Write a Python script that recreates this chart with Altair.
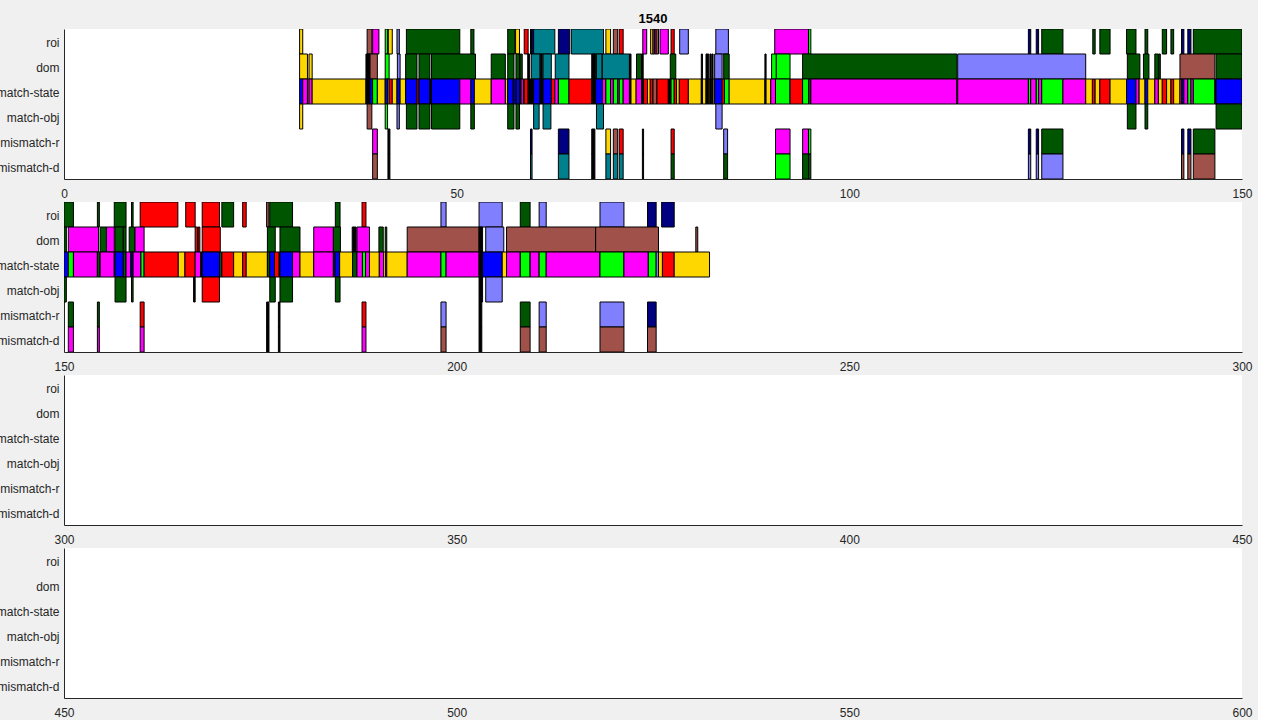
import altair as alt
import pandas as pd

ROWS = ["roi", "dom", "match-state", "match-obj", "mismatch-r", "mismatch-d"]
CODES = ["G", "Y", "M", "B", "R", "L", "T", "N", "P", "W", "K"]
COLORS = ["#005500", "#FFD700", "#FF00FF", "#0000FF", "#FF0000", "#00FF00",
          "#00808C", "#000080", "#8080FF", "#A0524A", "#000000"]
PANELS = [(0, 150), (150, 300), (300, 450), (450, 600)]
TITLE = "1540"

roi = [
    (30.0, 30.4, "Y"), (38.6, 39.2, "W"), (39.3, 40.1, "M"), (40.9, 41.2, "L"),
    (41.3, 41.8, "Y"), (42.4, 42.7, "P"), (43.6, 50.4, "G"), (51.8, 52.2, "G"),
    (56.5, 57.4, "G"), (57.5, 58.0, "Y"), (58.6, 59.1, "R"), (59.4, 59.55, "K"),
    (59.55, 59.8, "N"), (59.8, 62.5, "T"), (62.95, 64.4, "N"), (64.6, 68.7, "T"),
    (69.0, 69.6, "Y"), (69.95, 70.5, "W"), (70.7, 71.2, "R"), (73.7, 74.2, "M"),
    (74.7, 75.0, "Y"), (75.0, 75.2, "W"), (75.2, 75.4, "M"), (75.4, 75.7, "W"),
    (75.9, 76.95, "M"), (77.3, 77.7, "R"), (78.4, 79.5, "P"), (83.0, 84.6, "P"),
    (90.5, 94.8, "M"), (94.8, 95.1, "L"), (122.8, 123.1, "N"), (123.8, 124.1, "N"),
    (124.5, 127.2, "G"), (131.0, 131.3, "G"), (131.9, 133.2, "G"), (135.3, 136.5, "G"),
    (137.65, 138.0, "G"), (139.85, 140.4, "G"), (140.95, 141.3, "G"), (142.3, 142.6, "N"),
    (143.1, 143.5, "N"), (143.8, 150.0, "G"),
    (150.0, 151.2, "G"), (154.25, 154.5, "G"), (156.4, 157.9, "G"), (158.6, 158.8, "G"),
    (159.7, 164.5, "R"), (165.5, 166.7, "R"), (167.6, 169.8, "R"), (170.1, 171.6, "G"),
    (172.75, 173.2, "R"), (175.8, 176.1, "W"), (176.2, 179.1, "G"), (184.55, 185.15, "G"),
    (187.95, 188.45, "R"), (198.0, 198.65, "P"), (202.85, 205.8, "P"), (208.1, 209.35, "G"),
    (210.5, 211.4, "P"), (218.25, 221.3, "P"), (224.3, 225.4, "N"), (226.1, 227.7, "N"),
]

dom = [
    (30.0, 31.0, "Y"), (31.2, 31.6, "Y"), (38.45, 38.97, "K"), (38.97, 39.9, "W"),
    (40.9, 41.4, "L"), (42.45, 42.8, "P"), (43.5, 44.95, "G"), (45.2, 46.6, "G"),
    (46.8, 52.4, "G"), (54.4, 56.2, "G"), (56.5, 57.3, "G"), (57.55, 58.0, "G"),
    (58.1, 58.35, "G"), (59.05, 59.3, "K"), (59.5, 60.6, "T"), (60.65, 60.9, "K"),
    (61.0, 62.05, "T"), (62.55, 64.3, "T"), (67.2, 67.7, "K"), (67.8, 68.5, "T"),
    (68.55, 72.0, "T"), (72.0, 72.2, "K"), (72.9, 73.55, "G"), (73.55, 73.75, "K"),
    (77.2, 77.9, "G"), (81.15, 81.3, "K"), (81.75, 82.1, "K"), (82.25, 82.4, "K"),
    (82.5, 82.65, "K"), (82.85, 83.8, "P"), (84.0, 84.7, "G"), (89.25, 89.4, "K"),
    (90.1, 90.7, "L"), (90.7, 92.45, "L"), (94.05, 113.7, "G"), (113.8, 130.1, "P"),
    (135.4, 137.0, "G"), (137.45, 138.15, "G"), (138.9, 139.35, "G"), (139.4, 139.6, "G"),
    (142.1, 146.55, "W"), (146.7, 150.0, "G"),
    (150.0, 150.3, "G"), (150.55, 154.4, "M"), (154.6, 155.4, "G"), (155.4, 156.4, "M"),
    (156.5, 157.55, "G"), (157.55, 157.9, "G"), (158.3, 159.0, "G"), (159.05, 160.2, "M"),
    (166.7, 167.0, "R"), (167.1, 167.3, "R"), (167.6, 169.9, "R"), (175.9, 176.9, "G"),
    (177.5, 180.05, "G"), (181.8, 184.3, "M"), (184.3, 185.2, "G"), (186.7, 187.2, "K"),
    (187.3, 188.9, "M"), (190.1, 190.65, "G"), (190.9, 191.1, "G"), (193.7, 202.85, "W"),
    (202.85, 203.3, "K"), (203.7, 206.0, "P"), (206.35, 217.7, "W"), (217.7, 225.7, "W"),
    (230.45, 230.7, "W"),
]

match_state = [
    (30.0, 30.4, "B"), (30.4, 31.0, "M"), (31.0, 31.2, "Y"), (31.2, 31.6, "M"),
    (31.6, 38.45, "Y"), (38.45, 38.97, "K"), (38.97, 39.3, "B"), (39.3, 39.9, "L"),
    (39.9, 40.9, "Y"), (40.9, 41.2, "B"), (41.2, 41.4, "Y"), (41.4, 41.8, "R"),
    (41.8, 42.4, "Y"), (42.4, 42.8, "B"), (42.8, 43.5, "Y"), (43.5, 44.95, "B"),
    (44.95, 45.2, "R"), (45.2, 46.6, "B"), (46.6, 46.8, "K"), (46.8, 50.4, "B"),
    (50.4, 51.8, "M"), (51.8, 52.25, "B"), (52.25, 54.4, "Y"), (54.4, 56.2, "M"),
    (56.2, 56.5, "Y"), (56.5, 57.2, "B"), (57.2, 57.6, "N"), (57.6, 58.0, "B"),
    (58.0, 58.2, "K"), (58.2, 58.5, "M"), (58.5, 58.6, "K"), (58.6, 59.1, "R"),
    (59.1, 59.4, "K"), (59.4, 59.8, "K"), (59.8, 60.6, "B"), (60.6, 61.0, "K"),
    (61.0, 62.05, "B"), (62.05, 62.5, "R"), (62.5, 62.95, "M"), (62.95, 64.3, "L"),
    (64.3, 67.2, "R"), (67.2, 67.7, "K"), (67.7, 68.55, "B"), (68.55, 69.0, "M"),
    (69.0, 69.6, "L"), (69.6, 69.95, "M"), (69.95, 70.5, "L"), (70.5, 70.7, "M"),
    (70.7, 71.2, "L"), (71.2, 72.0, "M"), (72.0, 72.2, "K"), (72.2, 72.85, "Y"),
    (72.85, 73.55, "M"), (73.55, 73.8, "K"), (73.8, 74.3, "R"), (74.3, 74.65, "Y"),
    (74.65, 75.0, "R"), (75.0, 75.5, "W"), (75.5, 76.95, "R"), (76.95, 77.3, "K"),
    (77.3, 77.7, "L"), (77.7, 78.0, "R"), (78.0, 78.35, "Y"), (78.35, 79.5, "R"),
    (79.5, 81.15, "Y"), (81.15, 81.3, "K"), (81.3, 81.75, "Y"), (81.75, 82.1, "K"),
    (82.1, 82.25, "Y"), (82.25, 82.4, "K"), (82.4, 82.5, "Y"), (82.5, 82.65, "K"),
    (82.65, 82.85, "Y"), (82.85, 83.8, "B"), (83.8, 84.1, "R"), (84.1, 84.7, "L"),
    (84.7, 89.25, "Y"), (89.25, 89.4, "K"), (89.4, 90.0, "Y"), (90.0, 90.6, "M"),
    (90.6, 92.45, "L"), (92.45, 94.05, "R"), (94.05, 94.8, "L"), (94.8, 95.1, "G"),
    (95.1, 113.7, "M"), (113.7, 113.8, "K"), (113.8, 122.8, "M"), (122.8, 123.1, "L"),
    (123.1, 123.8, "M"), (123.8, 124.1, "L"), (124.1, 124.5, "M"), (124.5, 127.2, "L"),
    (127.2, 130.1, "M"), (130.1, 130.95, "Y"), (130.95, 131.3, "R"), (131.3, 131.9, "Y"),
    (131.9, 133.2, "R"), (133.2, 135.3, "Y"), (135.3, 136.5, "B"), (136.5, 136.9, "M"),
    (136.9, 137.65, "Y"), (137.65, 138.0, "B"), (138.0, 138.9, "Y"), (138.9, 139.35, "M"),
    (139.35, 139.85, "Y"), (139.85, 140.4, "R"), (140.4, 140.95, "Y"), (140.95, 141.3, "R"),
    (141.3, 142.1, "Y"), (142.1, 142.3, "M"), (142.3, 142.6, "N"), (142.6, 143.1, "M"),
    (143.1, 143.5, "L"), (143.5, 143.8, "M"), (143.8, 146.55, "L"), (146.55, 146.7, "K"),
    (146.7, 150.0, "B"),
    (150.0, 150.55, "B"), (150.55, 151.2, "L"), (151.2, 154.25, "M"), (154.25, 154.6, "G"),
    (154.6, 156.4, "M"), (156.4, 156.5, "K"), (156.5, 157.55, "B"), (157.55, 157.9, "G"),
    (157.9, 158.5, "M"), (158.5, 158.8, "N"), (158.8, 159.8, "M"), (159.8, 160.2, "L"),
    (160.2, 164.55, "R"), (164.55, 165.4, "Y"), (165.4, 166.7, "R"), (166.7, 167.4, "M"),
    (167.4, 167.6, "K"), (167.6, 169.8, "B"), (169.8, 170.1, "G"), (170.1, 171.6, "R"),
    (171.6, 172.75, "Y"), (172.75, 173.2, "R"), (173.2, 175.9, "Y"), (175.9, 176.2, "G"),
    (176.2, 176.8, "B"), (176.8, 177.4, "R"), (177.4, 177.5, "K"), (177.5, 179.1, "B"),
    (179.1, 180.05, "M"), (180.05, 181.8, "Y"), (181.8, 184.3, "M"), (184.3, 184.5, "G"),
    (184.5, 185.1, "B"), (185.1, 186.75, "Y"), (186.75, 187.3, "G"), (187.3, 188.0, "M"),
    (188.0, 188.4, "L"), (188.4, 188.9, "M"), (188.9, 190.15, "Y"), (190.15, 190.7, "M"),
    (190.7, 190.95, "Y"), (190.95, 191.1, "M"), (191.1, 193.7, "Y"), (193.7, 198.0, "M"),
    (198.0, 198.65, "L"), (198.65, 202.85, "M"), (202.85, 203.3, "K"), (203.3, 205.8, "B"),
    (205.8, 206.35, "Y"), (206.35, 208.1, "M"), (208.1, 209.35, "L"), (209.35, 210.5, "M"),
    (210.5, 211.4, "L"), (211.4, 218.25, "M"), (218.25, 221.3, "L"), (221.3, 224.4, "M"),
    (224.4, 225.4, "L"), (225.4, 225.7, "P"), (225.7, 226.2, "Y"), (226.2, 227.7, "R"),
    (227.7, 232.2, "Y"),
]

match_obj = [
    (30.0, 30.4, "Y"), (38.6, 39.2, "W"), (40.9, 41.2, "L"), (42.4, 42.7, "P"),
    (43.6, 44.95, "G"), (45.2, 46.6, "G"), (46.8, 50.4, "G"), (51.8, 52.25, "G"),
    (56.5, 57.3, "G"), (57.55, 58.0, "G"), (59.8, 60.5, "T"), (61.0, 62.0, "T"),
    (67.8, 68.7, "T"), (83.0, 83.8, "P"), (135.4, 136.5, "G"), (137.65, 138.0, "G"),
    (146.7, 150.0, "G"),
    (150.0, 150.3, "G"), (156.5, 157.9, "G"), (158.6, 158.8, "G"), (166.5, 166.7, "K"),
    (167.6, 169.8, "R"), (176.2, 176.9, "G"), (177.5, 179.1, "G"), (184.55, 185.15, "G"),
    (202.85, 203.3, "K"), (203.7, 205.8, "P"),
]

mismatch_r = [
    (39.3, 39.9, "M"), (41.25, 41.5, "K"), (59.4, 59.6, "N"), (62.95, 64.3, "N"),
    (67.2, 67.6, "K"), (69.0, 69.6, "Y"), (69.95, 70.5, "W"), (70.7, 71.2, "R"),
    (73.65, 73.8, "K"), (77.3, 77.7, "R"), (84.0, 84.5, "P"), (90.6, 92.45, "M"),
    (94.05, 94.8, "M"), (94.8, 95.1, "L"), (122.8, 123.1, "N"), (123.8, 124.1, "N"),
    (124.5, 127.2, "G"), (142.3, 142.6, "N"), (143.1, 143.5, "N"), (143.8, 146.55, "G"),
    (150.55, 151.2, "G"), (154.25, 154.5, "G"), (159.7, 160.2, "R"), (175.8, 176.1, "K"),
    (177.3, 177.5, "K"), (187.95, 188.45, "R"), (198.0, 198.65, "P"), (202.85, 203.2, "K"),
    (208.1, 209.35, "G"), (210.5, 211.4, "P"), (218.25, 221.3, "P"), (224.3, 225.4, "N"),
]

mismatch_d = [
    (39.3, 39.9, "W"), (41.25, 41.5, "K"), (59.4, 59.6, "T"), (62.95, 64.3, "T"),
    (67.2, 67.6, "K"), (69.0, 69.6, "T"), (69.95, 70.5, "T"), (70.7, 71.2, "T"),
    (73.65, 73.8, "K"), (77.3, 77.7, "G"), (84.0, 84.5, "G"), (90.6, 92.45, "L"),
    (94.05, 94.8, "G"), (94.8, 95.1, "G"), (122.8, 123.1, "P"), (123.8, 124.1, "P"),
    (124.5, 127.2, "P"), (142.3, 142.6, "W"), (143.1, 143.5, "W"), (143.8, 146.55, "W"),
    (150.55, 151.2, "M"), (154.25, 154.5, "M"), (159.7, 160.2, "M"), (175.8, 176.1, "K"),
    (177.3, 177.5, "K"), (187.95, 188.45, "M"), (198.0, 198.65, "W"), (202.85, 203.2, "K"),
    (208.1, 209.35, "W"), (210.5, 211.4, "W"), (218.25, 221.3, "W"), (224.3, 225.4, "W"),
]

SERIES = [roi, dom, match_state, match_obj, mismatch_r, mismatch_d]

records = []
for row_name, segs in zip(ROWS, SERIES):
    for s, e, c in segs:
        records.append({"row": row_name, "start": s, "end": e, "code": c})
df = pd.DataFrame(records)

FONT = "Liberation Sans"
AX = "#262626"


def panel(lo, hi, title=None):
    ch = alt.Chart(df).transform_filter(
        (alt.datum.end > lo) & (alt.datum.start < hi)
    ).mark_bar(stroke="black", strokeWidth=1, clip=True).encode(
        x=alt.X("start:Q",
                scale=alt.Scale(domain=[lo, hi], nice=False, zero=False),
                axis=alt.Axis(values=[lo, lo + 50, lo + 100, hi], format="d", title=None,
                              ticks=False, grid=False, labelFlush=False, labelPadding=9,
                              domainColor=AX, labelColor=AX, labelFontSize=12, labelFont=FONT)),
        x2="end:Q",
        y=alt.Y("row:N", sort=ROWS,
                scale=alt.Scale(domain=ROWS, paddingInner=0, paddingOuter=0),
                axis=alt.Axis(title=None, ticks=False, labelPadding=5, labelOffset=1.5,
                              domainColor=AX, labelColor=AX, labelFontSize=12, labelFont=FONT)),
        color=alt.Color("code:N", scale=alt.Scale(domain=CODES, range=COLORS), legend=None),
    ).properties(width=1178, height=150)
    if title:
        ch = ch.properties(title=alt.TitleParams(title, fontSize=13, fontWeight="bold",
                                                 font=FONT, color="black", offset=3))
    return ch


chart = alt.vconcat(*[panel(lo, hi, TITLE if i == 0 else None) for i, (lo, hi) in enumerate(PANELS)],
                    spacing=23, bounds="flush").properties(
    background="#F0F0F0",
    padding={"left": -4, "top": 13, "right": 5, "bottom": 5},
).configure_view(fill="white", stroke=None)

chart.save("out.html", embed_options={"renderer": "svg", "actions": False})
